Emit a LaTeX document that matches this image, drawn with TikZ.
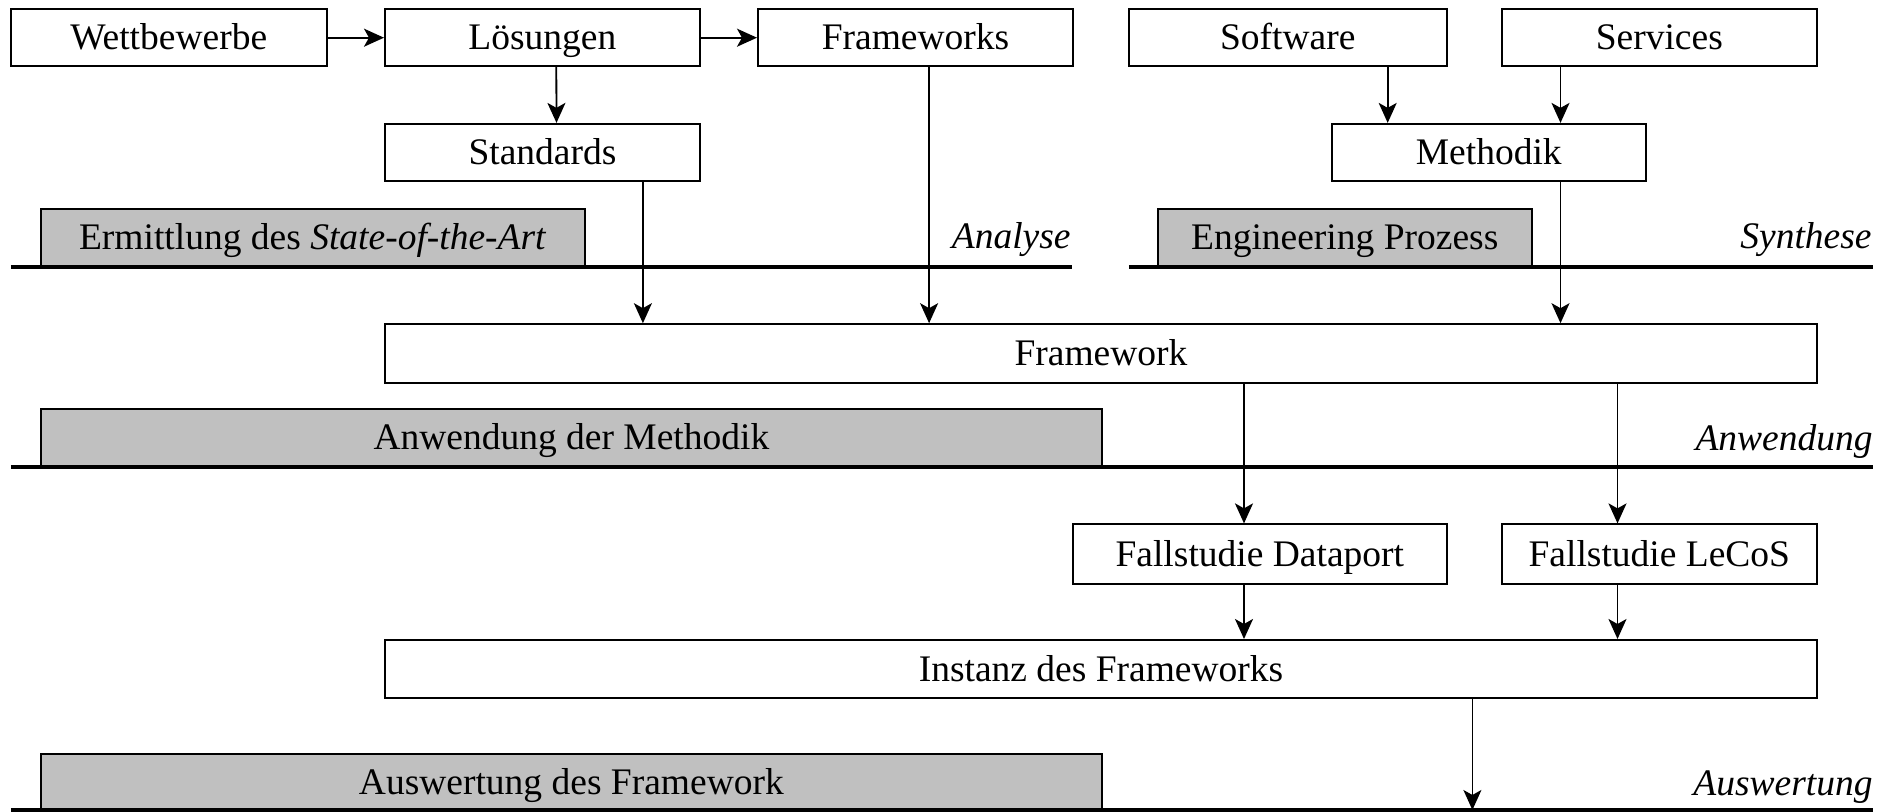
\documentclass[tikz,border=0pt]{standalone}
\usepackage{fontspec}
\setmainfont{Liberation Serif}
\usetikzlibrary{arrows.meta}
\definecolor{phasegray}{HTML}{C0C0C0}
\begin{document}
\begin{tikzpicture}[x=0.5pt,y=-0.5pt,
  box/.style={draw,line width=1pt,fill=white,minimum height=28.4pt,inner sep=0pt,
    text height=15pt,text depth=3pt,font=\fontsize{18.75}{22}\selectfont},
  phase/.style={box,fill=phasegray,minimum height=28.7pt},
  arr/.style={line width=0.9pt,-{Stealth[length=10pt,width=9pt,inset=2.5pt]}},
  bar/.style={line width=2pt},
  tag/.style={anchor=base east,inner sep=0pt,font=\fontsize{18.75}{22}\selectfont\itshape}]
\useasboundingbox (0,0) rectangle (1881,812);

% top row
\node[box,minimum width=158pt] (wett) at (168.7,37.7) {Wettbewerbe};
\node[box,minimum width=157.3pt] (loes) at (542.3,37.7) {Lösungen};
\node[box,minimum width=157.5pt] (fws) at (915.5,37.7) {Frameworks};
\node[box,minimum width=159pt] (soft) at (1287.7,37.7) {Software};
\node[box,minimum width=157.7pt] (serv) at (1659.3,37.7) {Services};
\node[box,minimum width=157.5pt] (std) at (542.5,152.3) {Standards};
\node[box,minimum width=157.3pt] (meth) at (1488.8,152.3) {Methodik};

% phases
\node[phase,minimum width=271.9pt] (ermittlung) at (312.7,238) {Ermittlung des \textit{State-of-the-Art}};
\node[phase,minimum width=187pt] (engineering) at (1344.7,238) {Engineering Prozess};
\node[phase,minimum width=530.6pt] (anwendung) at (571.4,438) {Anwendung der Methodik};
\node[phase,minimum width=530.6pt,minimum height=28pt] (auswertung) at (571.4,782) {Auswertung des Framework};

\draw[bar] (10.8,266.7) -- (1072,266.7);
\draw[bar] (1128.8,266.7) -- (1873,266.7);
\draw[bar] (10.8,466.7) -- (1873,466.7);
\draw[bar] (10.8,810) -- (1873,810);

\node[tag] (analyse) at (1071,248.5) {Analyse};
\node[tag] (synthese) at (1872,248.5) {Synthese};
\node[tag] (anw) at (1873,451) {Anwendung};
\node[tag] (ausw) at (1873,795.5) {Auswertung};

% framework and case studies
\node[box,minimum width=716pt,minimum height=29.5pt] (framework) at (1101,353.7) {Framework};
\node[box,minimum width=186.8pt,minimum height=29.8pt] (dataport) at (1259.8,554.2) {Fallstudie Dataport};
\node[box,minimum width=157.7pt,minimum height=29.8pt] (lecos) at (1659.3,554.2) {Fallstudie LeCoS};
\node[box,minimum width=716pt,minimum height=29.2pt] (instanz) at (1101,669.2) {Instanz des Frameworks};
\coordinate (ende) at (1472.4,810);

% arrows
\draw[arr] (wett) -- (loes);
\draw[arr] (loes) -- (fws);
\draw[arr] ([xshift=7pt]loes.south) -- ([xshift=7pt]std.north);
\draw[arr] ([xshift=50.2pt]std.south) -- ([xshift=50.2pt]std.south |- framework.north);
\draw[arr] ([xshift=6.8pt]fws.south) -- ([xshift=6.8pt]fws.south |- framework.north);
\draw[arr] ([xshift=50pt]soft.south) -- ([xshift=50pt]soft.south |- meth.north);
\draw[arr] ([xshift=-49.4pt]serv.south) -- ([xshift=-49.4pt]serv.south |- meth.north);
\draw[arr] ([xshift=-49.4pt]serv.south |- meth.south) -- ([xshift=-49.4pt]serv.south |- framework.north);
\draw[arr] ([xshift=-7.9pt]dataport.north |- framework.south) -- ([xshift=-7.9pt]dataport.north);
\draw[arr] ([xshift=-20.9pt]lecos.north |- framework.south) -- ([xshift=-20.9pt]lecos.north);
\draw[arr] ([xshift=-7.9pt]dataport.south) -- ([xshift=-7.9pt]dataport.south |- instanz.north);
\draw[arr] ([xshift=-20.9pt]lecos.south) -- ([xshift=-20.9pt]lecos.south |- instanz.north);
\draw[arr] (instanz.south -| ende) -- (ende);
\end{tikzpicture}
\end{document}
